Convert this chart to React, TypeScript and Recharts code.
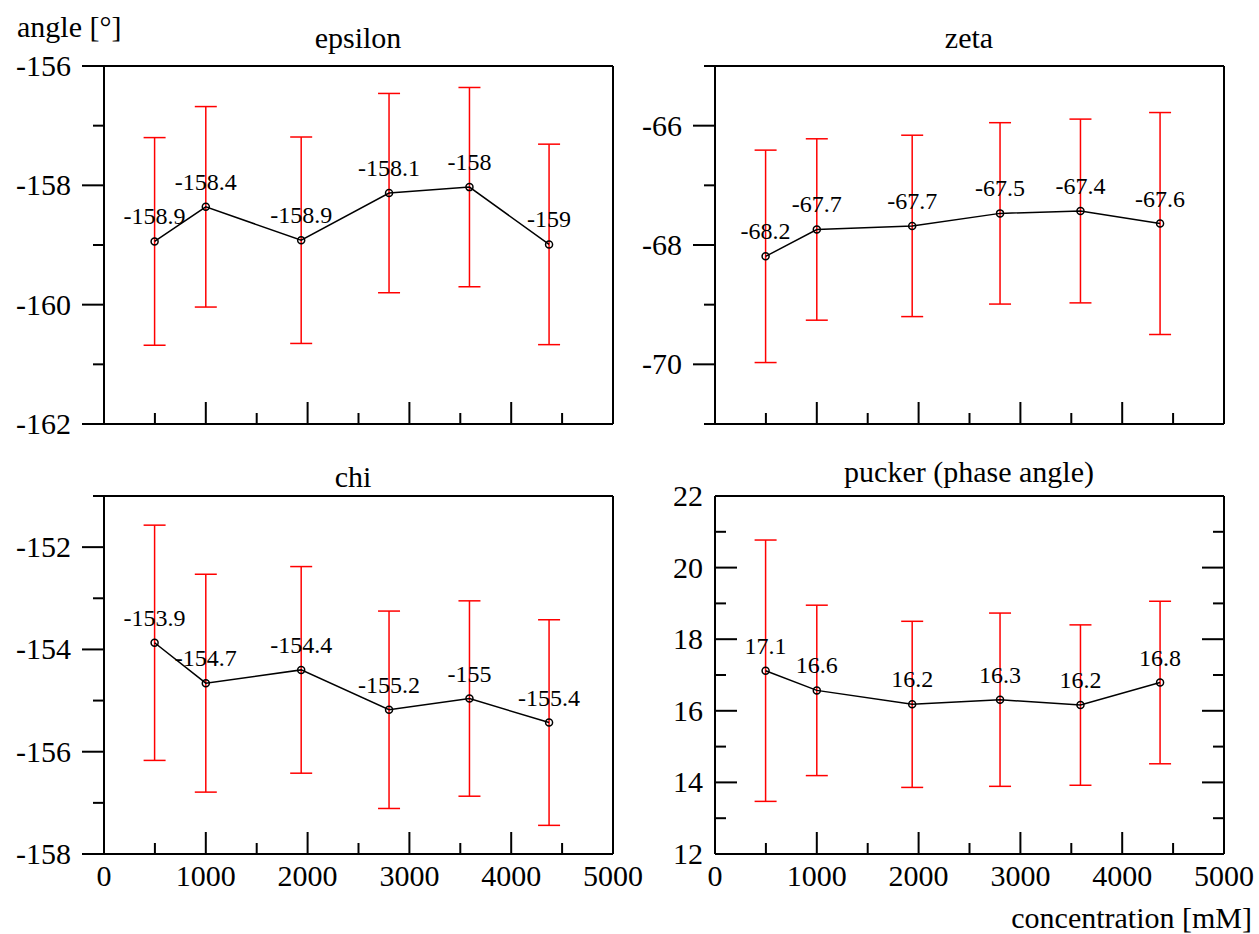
import React from "react";
import { LineChart, Line, XAxis, YAxis, ErrorBar, LabelList } from "recharts";

const FONT = '"Liberation Serif", "Times New Roman", serif';

// concentration [mM], same for every panel
const concentration = [497, 1000, 1937, 2800, 3590, 4372];

const epsilon = [-158.94, -158.36, -158.92, -158.13, -158.03, -158.99];
const epsilonErr = [1.74, 1.68, 1.73, 1.67, 1.67, 1.68];
const zeta = [-68.19, -67.74, -67.68, -67.47, -67.43, -67.64];
const zetaErr = [1.78, 1.52, 1.52, 1.52, 1.54, 1.86];
const chi = [-153.87, -154.66, -154.4, -155.18, -154.96, -155.43];
const chiErr = [2.3, 2.13, 2.02, 1.93, 1.91, 2.01];
const pucker = [17.12, 16.57, 16.18, 16.31, 16.16, 16.79];
const puckerErr = [3.65, 2.38, 2.32, 2.42, 2.24, 2.27];

const xTicks = [0, 500, 1000, 1500, 2000, 2500, 3000, 3500, 4000, 4500, 5000];
const epsilonTicks = [-162, -161, -160, -159, -158, -157, -156];
const zetaTicks = [-71, -70, -69, -68, -67, -66, -65];
const chiTicks = [-158, -157, -156, -155, -154, -153, -152, -151];
const puckerTicks = [12, 13, 14, 15, 16, 17, 18, 19, 20, 21, 22];

const PLOT_W = 509;
const PLOT_H = 358;
const MAJOR = 22;
const MINOR = 11;
const AXIS = { stroke: "#000", strokeWidth: 2 };

const fmt = (v: number) => String(Number(v.toFixed(1)));

function XTick(props: any) {
  const { x, y, payload, side, labels } = props;
  const v = payload.value;
  const major = v % 1000 === 0;
  const len = major ? MAJOR : MINOR;
  const dir = side === "top" ? 1 : -1;
  return (
    <g>
      <line x1={x} y1={y} x2={x} y2={y + dir * len} stroke="#000" strokeWidth={2} />
      {labels && major && (
        <text x={x} y={y + 32} textAnchor="middle" fontSize={30} fontFamily={FONT} fill="#000">
          {v}
        </text>
      )}
    </g>
  );
}

function YTick(props: any) {
  const { x, y, payload, side, inward } = props;
  const v = payload.value;
  const major = v % 2 === 0;
  const len = major ? MAJOR : MINOR;
  if (side === "right") {
    return <line x1={x - len} y1={y} x2={x} y2={y} stroke="#000" strokeWidth={2} />;
  }
  const x1 = inward ? x + len : x - len;
  const lx = inward ? x - 12 : x - MAJOR - 11;
  return (
    <g>
      <line x1={x1} y1={y} x2={x} y2={y} stroke="#000" strokeWidth={2} />
      {major && (
        <text x={lx} y={y + 10} textAnchor="end" fontSize={30} fontFamily={FONT} fill="#000">
          {v}
        </text>
      )}
    </g>
  );
}

interface PanelProps {
  left: number;
  top: number;
  values: number[];
  errors: number[];
  ticks: number[];
  xLabels: boolean;
  mirror: boolean;
}

function Panel({ left, top, values, errors, ticks, xLabels, mirror }: PanelProps) {
  const data = concentration.map((c, i) => ({ c, v: values[i], e: errors[i] }));
  const domain = [ticks[0], ticks[ticks.length - 1]];
  return (
    <div style={{ position: "absolute", left: left - 104, top: top - 70 }}>
      <LineChart
        width={PLOT_W + 124}
        height={PLOT_H + 120}
        data={data}
        margin={{ top: 69, right: 19, bottom: 10, left: 0 }}
      >
        <XAxis
          xAxisId="b"
          dataKey="c"
          type="number"
          domain={[0, 5000]}
          ticks={xTicks}
          interval={0}
          height={40}
          tickSize={0}
          tickMargin={0}
          tickLine={false}
          axisLine={AXIS}
          allowDataOverflow
          tick={(p: any) => <XTick {...p} side="bottom" labels={xLabels} />}
        />
        <XAxis
          xAxisId="t"
          orientation="top"
          type="number"
          domain={[0, 5000]}
          ticks={xTicks}
          interval={0}
          height={1}
          tickSize={0}
          tickMargin={0}
          tickLine={false}
          axisLine={AXIS}
          allowDataOverflow
          tick={mirror ? (p: any) => <XTick {...p} side="top" /> : false}
        />
        <YAxis
          yAxisId="l"
          type="number"
          domain={domain}
          ticks={ticks}
          interval={0}
          width={104}
          tickSize={0}
          tickMargin={0}
          tickLine={false}
          axisLine={AXIS}
          allowDataOverflow
          tick={(p: any) => <YTick {...p} side="left" inward={mirror} />}
        />
        <YAxis
          yAxisId="r"
          orientation="right"
          type="number"
          domain={domain}
          ticks={ticks}
          interval={0}
          width={1}
          tickSize={0}
          tickMargin={0}
          tickLine={false}
          axisLine={AXIS}
          allowDataOverflow
          tick={mirror ? (p: any) => <YTick {...p} side="right" /> : false}
        />
        <Line
          xAxisId="b"
          yAxisId="l"
          dataKey="v"
          stroke="#000"
          strokeWidth={1.5}
          dot={{ r: 3.5, stroke: "#000", strokeWidth: 1.5, fill: "none" }}
          activeDot={false}
          isAnimationActive={false}
        >
          <ErrorBar dataKey="e" width={11} stroke="#ff0000" strokeWidth={1.5} direction="y" />
          <LabelList
            dataKey="v"
            position="top"
            offset={17}
            formatter={(v: any) => fmt(Number(v))}
            fontSize={24}
            fontFamily={FONT}
            fill="#000"
          />
        </Line>
      </LineChart>
    </div>
  );
}

export default function App() {
  return (
    <div style={{ position: "absolute", left: 0, top: 0, width: 1259, height: 934, background: "#fff", fontFamily: FONT, overflow: "hidden" }}>
      <style>{`.recharts-surface { overflow: visible; } .recharts-wrapper { overflow: visible; }`}</style>
      <Panel left={104} top={66} values={epsilon} errors={epsilonErr} ticks={epsilonTicks} xLabels={false} mirror={false} />
      <Panel left={715} top={66} values={zeta} errors={zetaErr} ticks={zetaTicks} xLabels={false} mirror={false} />
      <Panel left={104} top={496} values={chi} errors={chiErr} ticks={chiTicks} xLabels={true} mirror={false} />
      <Panel left={715} top={496} values={pucker} errors={puckerErr} ticks={puckerTicks} xLabels={true} mirror={true} />
      <svg width={1259} height={934} style={{ position: "absolute", left: 0, top: 0, pointerEvents: "none" }}>
        <g fontFamily={FONT} fontSize={30} fill="#000">
          <text x={17} y={37}>angle [°]</text>
          <text x={358} y={48} textAnchor="middle">epsilon</text>
          <text x={969} y={48} textAnchor="middle">zeta</text>
          <text x={353} y={487} textAnchor="middle">chi</text>
          <text x={969} y={482} textAnchor="middle">pucker (phase angle)</text>
          <text x={1252} y={928} textAnchor="end">concentration [mM]</text>
        </g>
      </svg>
    </div>
  );
}
